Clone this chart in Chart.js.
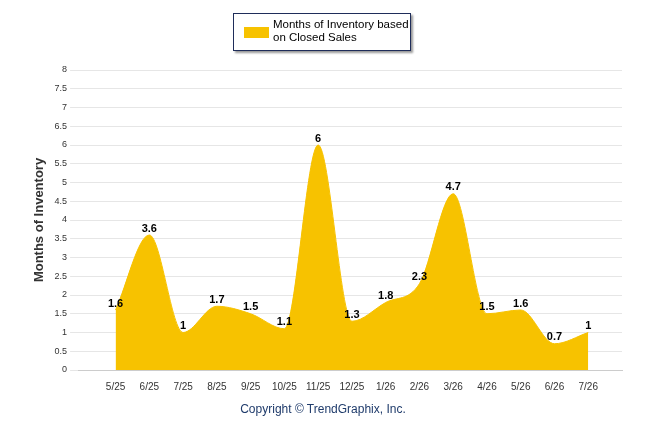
<!DOCTYPE html>
<html><head><meta charset="utf-8">
<script src="https://cdn.jsdelivr.net/npm/chart.js@4"></script>
<style>
body{margin:0;background:#fff;font-family:Arial,"Liberation Sans",sans-serif;}
#wrap{position:relative;width:646px;height:434px;}
#legend{position:absolute;left:233px;top:13px;width:176px;height:36px;border:1px solid #1f2d5a;box-shadow:2px 2px 2px #999;background:#fff;font-size:11.5px;line-height:13px;color:#000;}
#legend .sw{position:absolute;left:10px;top:13px;width:25px;height:11px;background:#f7c200;}
#legend .tx{position:absolute;left:39px;top:4px;white-space:nowrap;}
#copy{position:absolute;left:0;width:646px;top:402px;text-align:center;font-size:12px;color:#1f3b6b;}
canvas{position:absolute;left:0;top:0;}
</style></head><body>
<div id="wrap">
<canvas id="myChart" width="646" height="434"></canvas>
<div id="legend"><div class="sw"></div><div class="tx">Months of Inventory based<br>on Closed Sales</div></div>
<div id="copy">Copyright &copy; TrendGraphix, Inc.</div>
</div>
<script>
const categories = ['5/25','6/25','7/25','8/25','9/25','10/25','11/25','12/25','1/26','2/26','3/26','4/26','5/26','6/26','7/26'];
const inventory = [1.6, 3.6, 1, 1.7, 1.5, 1.1, 6, 1.3, 1.8, 2.3, 4.7, 1.5, 1.6, 0.7, 1];

const valueLabels = {
    id: 'valueLabels',
    afterDatasetsDraw(chart) {
        const ctx = chart.ctx;
        const meta = chart.getDatasetMeta(0);
        ctx.save();
        ctx.font = 'bold 11px Arial, "Liberation Sans"';
        ctx.fillStyle = '#000';
        ctx.textAlign = 'center';
        ctx.textBaseline = 'bottom';
        meta.data.forEach((pt, i) => {
            ctx.fillText(String(inventory[i]), pt.x, pt.y - 1);
        });
        ctx.restore();
    }
};

new Chart(document.getElementById('myChart'), {
    type: 'line',
    data: {
        datasets: [{
            data: inventory.map((v, i) => ({x: i, y: v})),
            backgroundColor: '#f7c200',
            borderColor: '#f7c200',
            borderWidth: 1,
            fill: 'origin',
            tension: 0.4,
            cubicInterpolationMode: 'monotone',
            pointRadius: 0
        }]
    },
    options: {
        responsive: false,
        animation: false,
        layout: {padding: {left: 28, right: 24, top: 70, bottom: 38}},
        plugins: {legend: {display: false}, tooltip: {enabled: false}},
        scales: {
            x: {
                type: 'linear',
                min: -1.11,
                max: 15.0,
                grid: {display: false},
                border: {color: '#ccc'},
                afterBuildTicks(axis) {
                    axis.ticks = categories.map((c, i) => ({value: i}));
                },
                ticks: {
                    autoSkip: false,
                    maxRotation: 0,
                    font: {size: 10, family: 'Arial, "Liberation Sans"'},
                    color: '#333',
                    callback: v => categories[v]
                }
            },
            y: {
                min: 0,
                max: 8,
                ticks: {stepSize: 0.5, font: {size: 9, family: 'Arial, "Liberation Sans"'}, color: '#333',
                    callback: v => String(v)},
                grid: {color: '#e6e6e6'},
                border: {display: false},
                title: {display: true, text: 'Months of Inventory', font: {size: 13, weight: 'bold', family: 'Arial, "Liberation Sans"'}, color: '#333'}
            }
        }
    },
    plugins: [valueLabels]
});
</script>
</body></html>
